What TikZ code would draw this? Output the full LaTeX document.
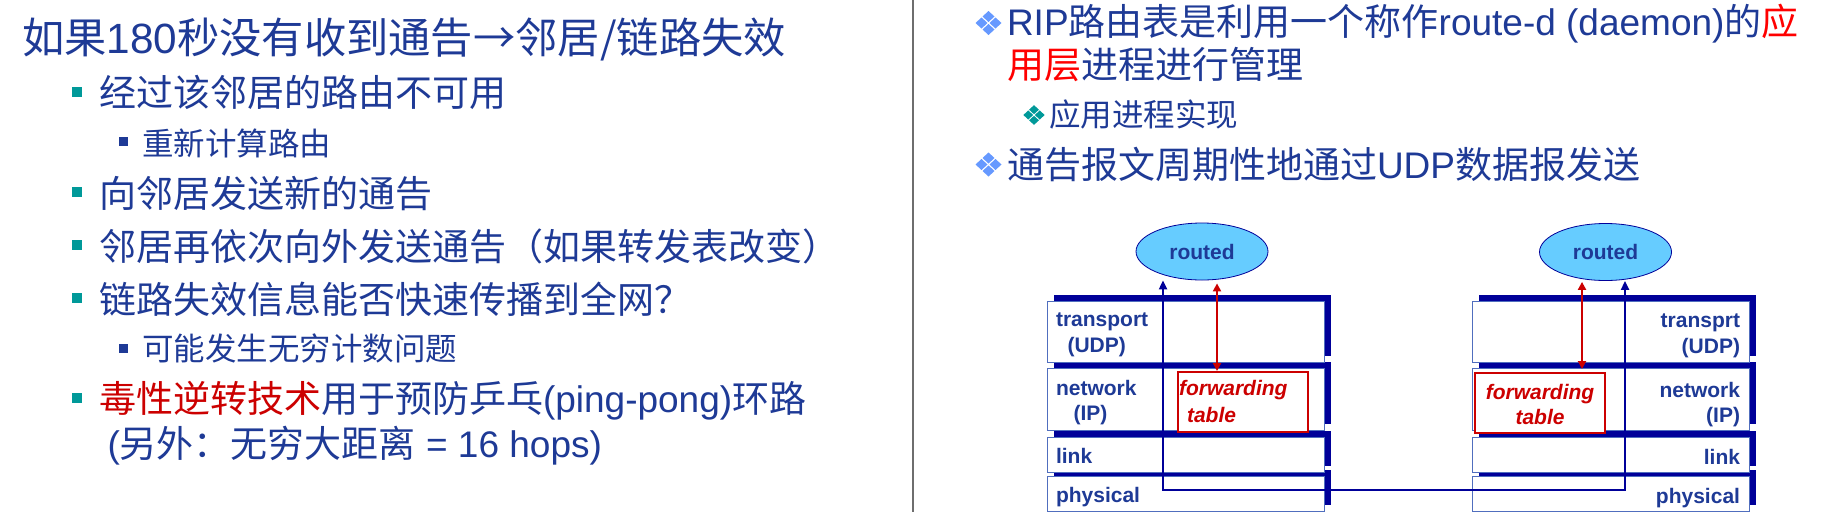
\documentclass[tikz,border=0pt]{standalone}
\usepackage{fontspec}
\setmainfont{Noto Sans CJK SC}
\newfontfamily\lat{Liberation Sans}
\usetikzlibrary{arrows.meta,shadows,shapes.geometric}
\definecolor{txtblue}{RGB}{30,58,150}
\definecolor{teal1}{RGB}{0,153,153}
\definecolor{lblue}{RGB}{102,153,255}
\definecolor{navy1}{RGB}{0,0,153}
\definecolor{red1}{RGB}{204,0,0}
\definecolor{red2}{RGB}{255,0,0}
\definecolor{boxblue}{RGB}{80,110,190}
\definecolor{skyfill}{RGB}{102,204,255}
\definecolor{divgray}{RGB}{110,110,110}
\newcommand\myfsA{\fontsize{42.3}{50}\selectfont}
\newcommand\myfsB{\fontsize{37}{44}\selectfont}
\newcommand\myfsC{\fontsize{31.5}{38}\selectfont}
\newcommand\myfsD{\fontsize{21}{25}\selectfont}
\tikzset{
  dbul/.pic={
    \foreach \dx/\dy in {-7/0,7/0,0/-6.5,0/6.5}{
      \fill ({\dx+6},\dy) -- (\dx,{\dy+5.5}) -- ({\dx-6},\dy) -- (\dx,{\dy-5.5}) -- cycle;
    }
  },
  txt/.style={inner sep=0pt, outer sep=0pt, anchor=base west, text=txtblue},
  ttl/.style={txt, font=\myfsA},
  lone/.style={txt, font=\myfsB},
  ltwo/.style={txt, font=\myfsC},
  sqbul/.style={fill=teal1, minimum size=10pt, inner sep=0pt, outer sep=0pt},
  sqsub/.style={fill=txtblue, minimum size=9pt, inner sep=0pt, outer sep=0pt},
  layer/.style={draw=boxblue, line width=0.8pt, fill=white, inner sep=0pt, outer sep=0pt,
    minimum width=277pt, general shadow={fill=navy1, shadow xshift=7pt, shadow yshift=6.5pt}},
  lblw/.style={inner sep=0pt, outer sep=0pt, anchor=base west, text=txtblue, font=\lat\bfseries\myfsD},
  lble/.style={lblw, anchor=base east},
  fwdbox/.style={draw=red1, line width=2pt, fill=white, minimum width=130pt, minimum height=60pt, inner sep=0pt},
  fwdw/.style={inner sep=0pt, outer sep=0pt, anchor=base west, text=red1, font=\lat\bfseries\itshape\myfsD},
  fwdc/.style={fwdw, anchor=base},
  routed/.style={ellipse, draw=navy1, line width=0.8pt, fill=skyfill, minimum width=132pt,
    minimum height=57pt, inner sep=0pt, text=txtblue, font=\lat\bfseries\myfsD},
  bluearr/.style={draw=navy1, line width=2pt, {Triangle[length=9pt,width=8pt]}-{Triangle[length=9pt,width=8pt]}},
  redarr/.style={draw=red1, line width=2pt, {Triangle[length=8pt,width=8pt]}-{Triangle[length=8pt,width=8pt]}},
}
\begin{document}
\begin{tikzpicture}[x=1pt,y=-1pt]
\fill[white] (0,0) rectangle (1846,512);
\useasboundingbox (0,0) rectangle (1846,512);
% divider
\coordinate (dvt) at (913,0);
\coordinate (dvb) at (913,512);
\draw[divgray, line width=2.5pt] (dvt) -- (dvb);
% left column
\node[ttl] (t1) at (22,53) {如果{\lat 180}秒没有收到通告→邻居/链路失效};
\node[sqbul] (b2) at (77,92) {};
\node[lone] (l2) at (99,106) {经过该邻居的路由不可用};
\node[sqsub] (b3) at (123.5,141.5) {};
\node[ltwo] (l3) at (142,155.5) {重新计算路由};
\node[sqbul] (b4) at (77,192) {};
\node[lone] (l4) at (99,207) {向邻居发送新的通告};
\node[sqbul] (b5) at (77,245) {};
\node[lone] (l5) at (99,260) {邻居再依次向外发送通告（如果转发表改变）};
\node[sqbul] (b6) at (77,298) {};
\node[lone] (l6) at (99,313) {链路失效信息能否快速传播到全网？};
\node[sqsub] (b7) at (123.5,348) {};
\node[ltwo] (l7) at (142,360.5) {可能发生无穷计数问题};
\node[sqbul] (b8) at (77,398) {};
\node[lone] (l8) at (99,412.5) {\textcolor{red1}{毒性逆转技术}用于预防乒乓{\lat (ping-pong)}环路};
\node[lone] (l9) at (107.5,457.5) {{\lat (}另外：无穷大距离{\lat{} = 16 hops)}};
% right column
\pic[color=lblue] at (988.5,23) {dbul};
\node[lone] (r1) at (1007,35.5) {{\lat RIP}路由表是利用一个称作{\lat route-d (daemon)}的\textcolor{red2}{应}};
\node[lone] (r2) at (1007,78.5) {\textcolor{red2}{用层}进程进行管理};
\pic[color=teal1, scale=0.82] at (1034,115) {dbul};
\node[ltwo] (r3) at (1049,126) {应用进程实现};
\pic[color=lblue] at (988.5,164.5) {dbul};
\node[lone] (r4) at (1007,178.5) {通告报文周期性地通过{\lat UDP}数据报发送};
% left stack
\node[layer, minimum height=35pt] (pL) at (1185.5,493.5) {};
\node[layer, minimum height=35pt] (kL) at (1185.5,454.5) {};
\node[layer, minimum height=62pt] (nL) at (1185.5,399) {};
\node[layer, minimum height=61pt] (tL) at (1185.5,331.5) {};
% right stack
\node[layer, minimum height=35pt] (pR) at (1610.5,494) {};
\node[layer, minimum height=35pt] (kR) at (1610.5,454.5) {};
\node[layer, minimum height=62pt] (nR) at (1610.5,399) {};
\node[layer, minimum height=61pt] (tR) at (1610.5,331.5) {};
% forwarding tables
\node[fwdbox] (fL) at (1243,402) {};
\node[fwdbox] (fR) at (1540,403) {};
% left labels
\node[lblw] (ltr) at (1056,326) {transport};
\node[lblw] (lud) at (1067.5,352) {(UDP)};
\node[lblw] (lnw) at (1056,395) {network};
\node[lblw] (lip) at (1073.5,420) {(IP)};
\node[lblw] (llk) at (1056,463) {link};
\node[lblw] (lph) at (1056,502) {physical};
\node[fwdw] (lfw) at (1179,395) {forwarding};
\node[fwdw] (lft) at (1187,422) {table};
% right labels
\node[lble] (rtr) at (1740,327) {transprt};
\node[lble] (rud) at (1740,353) {(UDP)};
\node[lble] (rnw) at (1740,397) {network};
\node[lble] (rip) at (1740,422) {(IP)};
\node[lble] (rlk) at (1740,464) {link};
\node[lble] (rph) at (1740,503) {physical};
\node[fwdc] (rfw) at (1540,399) {forwarding};
\node[fwdc] (rft) at (1540,424) {table};
% routed daemons
\node[routed] (rL) at (1202,251.5) {routed};
\node[routed] (rR) at (1605.5,252) {routed};
% connectors
\coordinate (bL) at (1163,490);
\coordinate (bR) at (1625,490);
\draw[bluearr] (rL.south -| bL) -- (bL) -- (bR) -- (rR.south -| bR);
\coordinate (xL) at (1217,400);
\coordinate (xR) at (1582,400);
\draw[redarr, shorten <=3pt] (rL.south -| xL) -- (fL.north -| xL);
\draw[redarr, shorten <=1pt, shorten >=3pt] (rR.south -| xR) -- (fR.north -| xR);
\end{tikzpicture}
\end{document}
